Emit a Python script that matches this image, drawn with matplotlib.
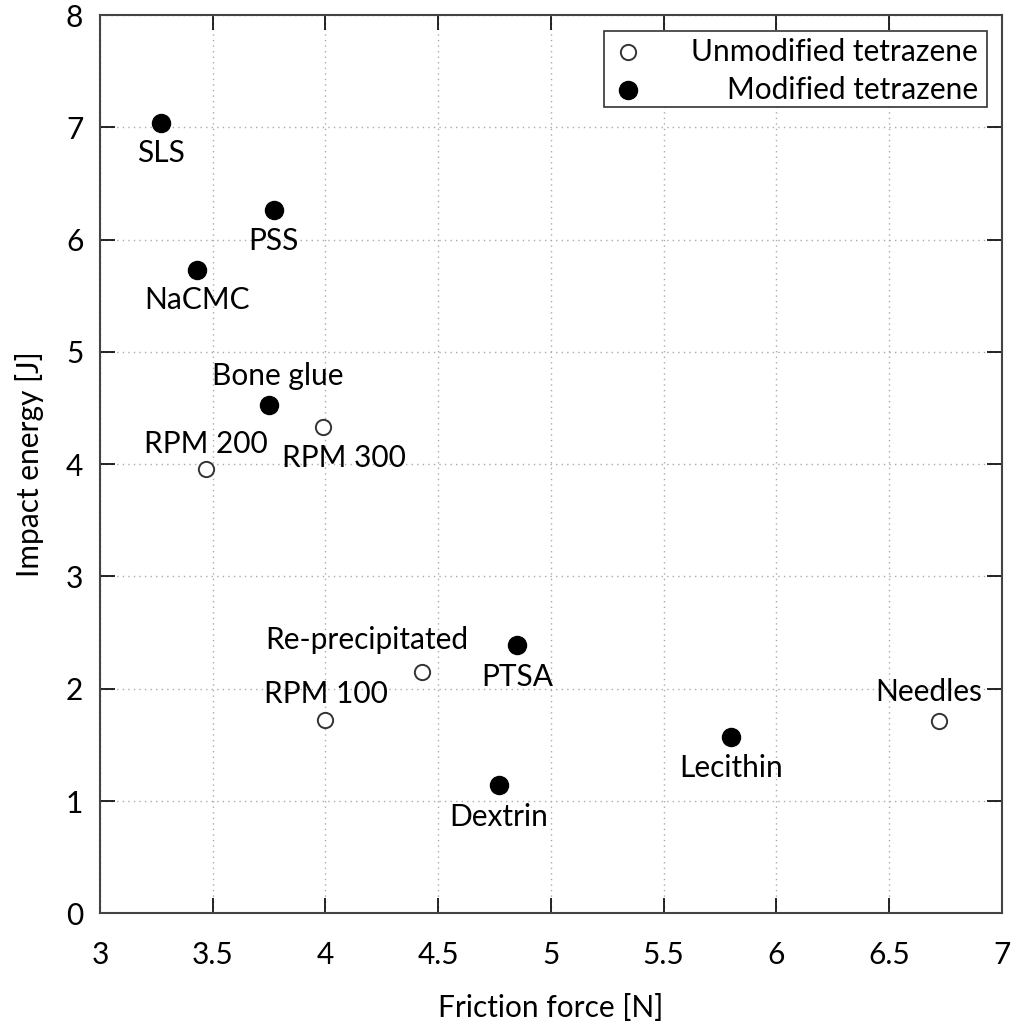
import matplotlib
matplotlib.use("Agg")
import matplotlib.pyplot as plt
from matplotlib.patches import Rectangle

plt.rcParams["font.family"] = ["Lato", "DejaVu Sans"]

# unmodified tetrazene (open markers)
unmod_names = ["RPM 200", "RPM 300", "Re-precipitated", "RPM 100", "Needles"]
unmod_friction = [3.47, 3.99, 4.43, 4.00, 6.72]
unmod_impact = [3.96, 4.33, 2.15, 1.72, 1.71]

# modified tetrazene (filled markers)
mod_names = ["SLS", "PSS", "NaCMC", "Bone glue", "PTSA", "Dextrin", "Lecithin"]
mod_friction = [3.27, 3.77, 3.43, 3.75, 4.85, 4.77, 5.80]
mod_impact = [7.04, 6.26, 5.73, 4.53, 2.39, 1.14, 1.57]

x_ticks = [3, 3.5, 4, 4.5, 5, 5.5, 6, 6.5, 7]
x_tick_labels = ["3", "3.5", "4", "4.5", "5", "5.5", "6", "6.5", "7"]
y_ticks = [0, 1, 2, 3, 4, 5, 6, 7, 8]

# label offsets in points (dx, dy) from each marker
unmod_offsets = [(0, 18), (15, -22), (-40, 23), (0, 19), (-7, 21)]
mod_offsets = [(0, -22), (0, -22), (0, -22), (6, 21), (0, -23), (0, -23), (0, -22)]

FS = 21.5

fig = plt.figure(figsize=(10.16, 10.29), dpi=100)
ax = fig.add_axes([0.0984, 0.1124, 0.8878, 0.873])

ax.plot(unmod_friction, unmod_impact, "o", ls="none", ms=11, mfc="white",
        mec="#333333", mew=1.4, zorder=3)
ax.plot(mod_friction, mod_impact, "o", ls="none", ms=13, mfc="black",
        mec="black", zorder=3)

for name, x, y, off in zip(unmod_names, unmod_friction, unmod_impact, unmod_offsets):
    ax.annotate(name, (x, y), xytext=off, textcoords="offset points",
                ha="center", va="center", fontsize=FS)
for name, x, y, off in zip(mod_names, mod_friction, mod_impact, mod_offsets):
    ax.annotate(name, (x, y), xytext=off, textcoords="offset points",
                ha="center", va="center", fontsize=FS)

ax.set_xlim(3, 7)
ax.set_ylim(0, 8)
ax.set_xticks(x_ticks)
ax.set_xticklabels(x_tick_labels)
ax.set_yticks(y_ticks)
ax.tick_params(direction="in", length=11, width=1.2, top=True, right=True,
               labelsize=FS, color="black")
ax.tick_params(axis="x", pad=20)
ax.tick_params(axis="y", pad=12)
ax.grid(True, ls=(0, (1, 3)), color="#aaaaaa", lw=1)
ax.set_axisbelow(True)
for sp in ax.spines.values():
    sp.set_color("#444444")
    sp.set_linewidth(1.5)

ax.set_xlabel("Friction force [N]", fontsize=FS, labelpad=18)
ax.set_ylabel("Impact energy [J]", fontsize=FS, labelpad=16)

# gnuplot-style key: markers left, text right-aligned
ax.add_patch(Rectangle((0.5588, 0.8972), 0.4242, 0.085, transform=ax.transAxes,
                       fc="white", ec="#333333", lw=1.2, zorder=4))
ax.plot([0.5854], [0.9588], "o", ms=11, mfc="white", mec="#333333", mew=1.4,
        transform=ax.transAxes, zorder=5)
ax.plot([0.5854], [0.917], "o", ms=13, mfc="black", mec="black",
        transform=ax.transAxes, zorder=5)
ax.text(0.9734, 0.9588, "Unmodified tetrazene", transform=ax.transAxes,
        ha="right", va="center", fontsize=FS, zorder=5)
ax.text(0.9734, 0.917, "Modified tetrazene", transform=ax.transAxes,
        ha="right", va="center", fontsize=FS, zorder=5)

fig.savefig("out.png", dpi=100)
